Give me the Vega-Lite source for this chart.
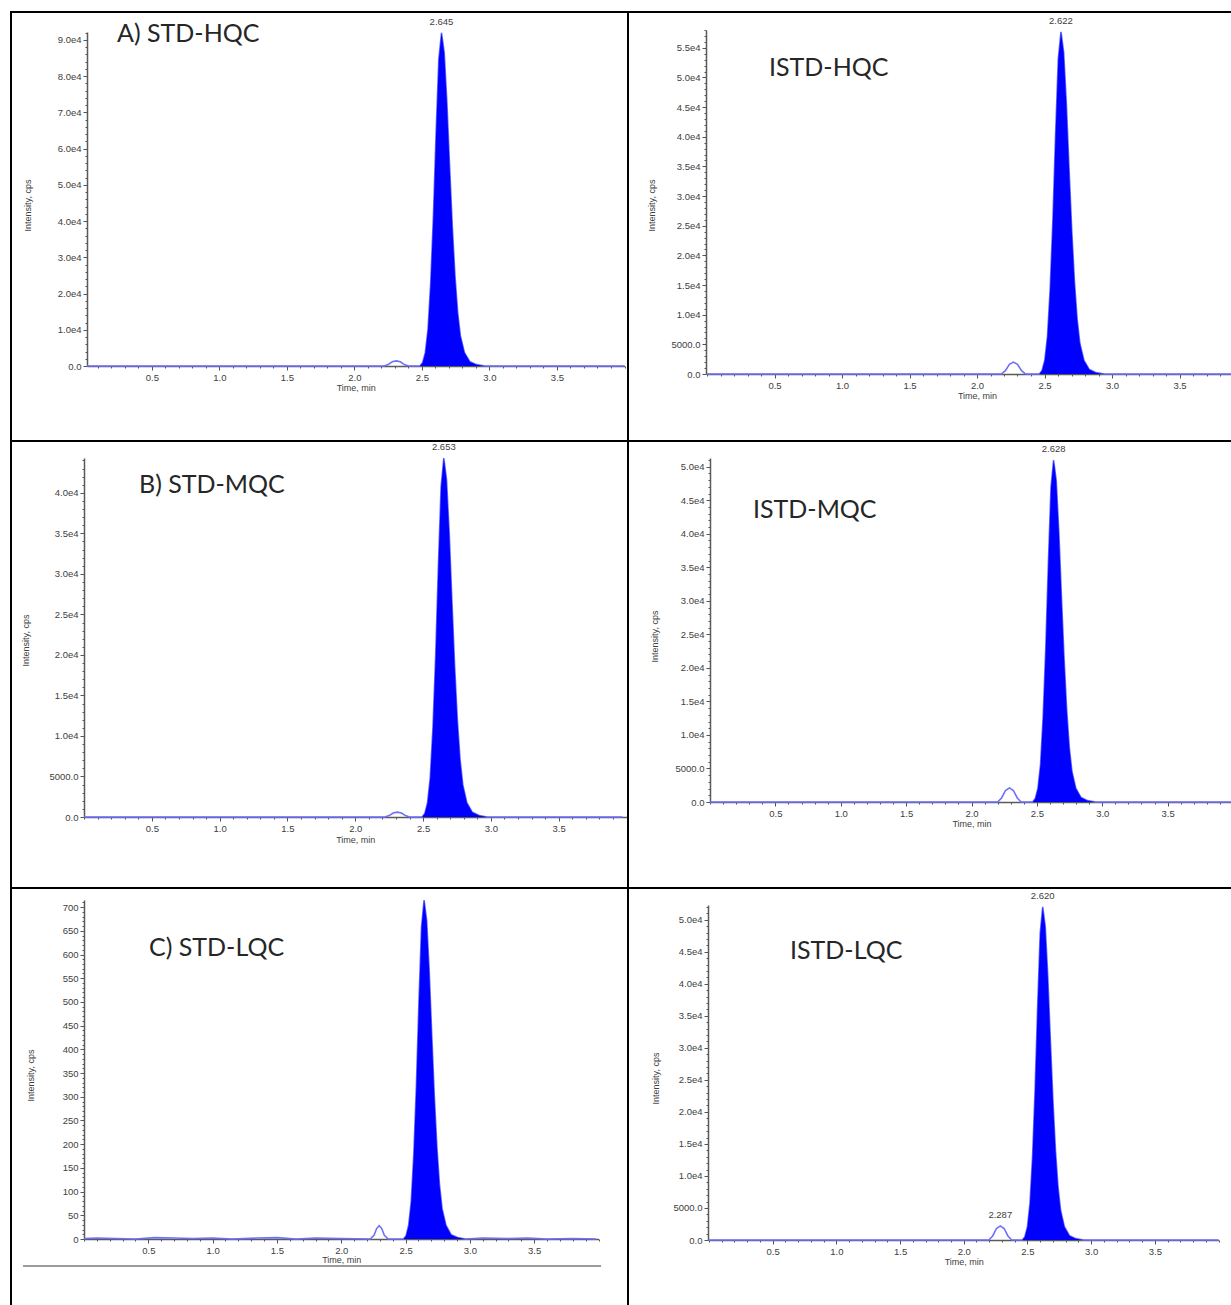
{
  "$schema": "https://vega.github.io/schema/vega-lite/v6.json",
  "background": "white",
  "padding": {"left": 10, "top": 11, "right": 0, "bottom": 0},
  "config": {
    "view": {"stroke": "#000000", "strokeWidth": 2},
    "axis": {
      "labelFont": "Liberation Sans", "labelFontSize": 9.5, "labelColor": "#404040", "labelPadding": 2,
      "titleFont": "Liberation Sans", "titleFontSize": 9, "titleFontWeight": "normal", "titleColor": "#404040",
      "domainColor": "#5a5a5a", "domainWidth": 1.5, "tickColor": "#555555", "tickSize": 4, "grid": false
    },
    "title": {"font": "Lato", "fontSize": 25, "fontWeight": "normal", "color": "#262626", "anchor": "start", "frame": "group", "baseline": "alphabetic"},
    "text": {"font": "Liberation Sans", "fontSize": 9.5, "color": "#404040"}
  },
  "datasets": {
    "A": [{"t":0.02,"i":0},{"t":0.5,"i":0},{"t":1,"i":0},{"t":1.5,"i":0},{"t":2,"i":0},{"t":2.22,"i":0},{"t":2.25,"i":400},{"t":2.28,"i":1150},{"t":2.31,"i":1400},{"t":2.34,"i":1150},{"t":2.37,"i":400},{"t":2.4,"i":0},{"t":2.485,"i":0},{"t":2.505,"i":920},{"t":2.525,"i":3680},{"t":2.545,"i":10120},{"t":2.565,"i":23000},{"t":2.585,"i":41400},{"t":2.605,"i":64400},{"t":2.625,"i":84640},{"t":2.645,"i":92000},{"t":2.665,"i":86500},{"t":2.685,"i":72700},{"t":2.705,"i":55200},{"t":2.725,"i":38600},{"t":2.745,"i":24800},{"t":2.765,"i":14700},{"t":2.785,"i":8300},{"t":2.815,"i":3700},{"t":2.855,"i":1200},{"t":2.905,"i":370},{"t":2.965,"i":0},{"t":3.5,"i":0},{"t":4,"i":0}],
    "B": [{"t":0,"i":0},{"t":0.5,"i":0},{"t":1,"i":0},{"t":1.5,"i":0},{"t":2,"i":0},{"t":2.22,"i":0},{"t":2.25,"i":170},{"t":2.28,"i":490},{"t":2.31,"i":600},{"t":2.34,"i":490},{"t":2.37,"i":170},{"t":2.4,"i":0},{"t":2.493,"i":0},{"t":2.513,"i":443},{"t":2.533,"i":1772},{"t":2.553,"i":4873},{"t":2.573,"i":11075},{"t":2.593,"i":19935},{"t":2.613,"i":31010},{"t":2.633,"i":40756},{"t":2.653,"i":44300},{"t":2.673,"i":41640},{"t":2.693,"i":35000},{"t":2.713,"i":26580},{"t":2.733,"i":18600},{"t":2.753,"i":11960},{"t":2.773,"i":7090},{"t":2.793,"i":3990},{"t":2.823,"i":1770},{"t":2.863,"i":580},{"t":2.913,"i":180},{"t":2.973,"i":0},{"t":3.5,"i":0},{"t":3.97,"i":0}],
    "C": [{"t":0,"i":1},{"t":0.1,"i":2},{"t":0.25,"i":1},{"t":0.4,"i":0},{"t":0.55,"i":3},{"t":0.7,"i":2},{"t":0.85,"i":1},{"t":1,"i":2},{"t":1.15,"i":0},{"t":1.35,"i":2},{"t":1.5,"i":3},{"t":1.65,"i":0},{"t":1.8,"i":2},{"t":2,"i":1},{"t":2.225,"i":0},{"t":2.255,"i":8},{"t":2.275,"i":22},{"t":2.295,"i":28},{"t":2.315,"i":22},{"t":2.335,"i":8},{"t":2.365,"i":0},{"t":2.484,"i":0},{"t":2.504,"i":7},{"t":2.524,"i":29},{"t":2.544,"i":79},{"t":2.564,"i":179},{"t":2.584,"i":322},{"t":2.604,"i":501},{"t":2.624,"i":658},{"t":2.644,"i":715},{"t":2.664,"i":672},{"t":2.684,"i":565},{"t":2.704,"i":429},{"t":2.724,"i":300},{"t":2.744,"i":193},{"t":2.764,"i":114},{"t":2.784,"i":64},{"t":2.814,"i":29},{"t":2.854,"i":9},{"t":2.904,"i":3},{"t":2.964,"i":0},{"t":3.1,"i":2},{"t":3.3,"i":1},{"t":3.45,"i":2},{"t":3.6,"i":0},{"t":3.8,"i":1},{"t":3.98,"i":0}],
    "D": [{"t":0,"i":0},{"t":0.5,"i":0},{"t":1,"i":0},{"t":1.5,"i":0},{"t":2,"i":0},{"t":2.18,"i":0},{"t":2.21,"i":570},{"t":2.24,"i":1640},{"t":2.27,"i":2000},{"t":2.3,"i":1640},{"t":2.33,"i":570},{"t":2.36,"i":0},{"t":2.462,"i":0},{"t":2.482,"i":577},{"t":2.502,"i":2308},{"t":2.522,"i":6347},{"t":2.542,"i":14425},{"t":2.562,"i":25965},{"t":2.582,"i":40390},{"t":2.602,"i":53084},{"t":2.622,"i":57700},{"t":2.642,"i":54240},{"t":2.662,"i":45580},{"t":2.682,"i":34620},{"t":2.702,"i":24230},{"t":2.722,"i":15580},{"t":2.742,"i":9230},{"t":2.762,"i":5190},{"t":2.792,"i":2310},{"t":2.832,"i":750},{"t":2.882,"i":230},{"t":2.942,"i":0},{"t":3.5,"i":0},{"t":4,"i":0}],
    "E": [{"t":0,"i":0},{"t":0.5,"i":0},{"t":1,"i":0},{"t":1.5,"i":0},{"t":2,"i":0},{"t":2.2,"i":0},{"t":2.23,"i":600},{"t":2.26,"i":1720},{"t":2.29,"i":2100},{"t":2.32,"i":1720},{"t":2.35,"i":600},{"t":2.38,"i":0},{"t":2.468,"i":0},{"t":2.488,"i":510},{"t":2.508,"i":2040},{"t":2.528,"i":5610},{"t":2.548,"i":12750},{"t":2.568,"i":22950},{"t":2.588,"i":35700},{"t":2.608,"i":46920},{"t":2.628,"i":51000},{"t":2.648,"i":47940},{"t":2.668,"i":40290},{"t":2.688,"i":30600},{"t":2.708,"i":21420},{"t":2.728,"i":13770},{"t":2.748,"i":8160},{"t":2.768,"i":4590},{"t":2.798,"i":2040},{"t":2.838,"i":660},{"t":2.888,"i":200},{"t":2.948,"i":0},{"t":3.5,"i":0},{"t":4,"i":0}],
    "F": [{"t":0,"i":0},{"t":0.5,"i":0},{"t":1,"i":0},{"t":1.5,"i":0},{"t":2,"i":0},{"t":2.197,"i":0},{"t":2.227,"i":630},{"t":2.257,"i":1800},{"t":2.287,"i":2200},{"t":2.317,"i":1800},{"t":2.347,"i":630},{"t":2.377,"i":0},{"t":2.46,"i":0},{"t":2.48,"i":520},{"t":2.5,"i":2080},{"t":2.52,"i":5720},{"t":2.54,"i":13000},{"t":2.56,"i":23400},{"t":2.58,"i":36400},{"t":2.6,"i":47840},{"t":2.62,"i":52000},{"t":2.64,"i":48880},{"t":2.66,"i":41080},{"t":2.68,"i":31200},{"t":2.7,"i":21840},{"t":2.72,"i":14040},{"t":2.74,"i":8320},{"t":2.76,"i":4680},{"t":2.79,"i":2080},{"t":2.83,"i":680},{"t":2.88,"i":210},{"t":2.94,"i":0},{"t":3.5,"i":0},{"t":4,"i":0}],
    "peaks": [
      {"p":"A","t":2.645,"i":92000,"label":"2.645"},
      {"p":"B","t":2.653,"i":44300,"label":"2.653"},
      {"p":"D","t":2.622,"i":57700,"label":"2.622"},
      {"p":"E","t":2.628,"i":51000,"label":"2.628"},
      {"p":"F","t":2.62,"i":52000,"label":"2.620"},
      {"p":"F","t":2.287,"i":2200,"label":"2.287"}
    ]
  },
  "spacing": 0,
  "bounds": "flush",
  "align": "each",
  "columns": 2,
  "concat": [
    {
      "width": 617, "height": 429,
      "title": {"text": "A) STD-HQC", "offset": -35, "dx": 106},
      "resolve": {"axis": {"x": "independent", "y": "independent"}},
      "layer": [
        {"data": {"name": "A"}, "mark": {"type": "line", "color": "#6e6eff", "strokeWidth": 1.6},
         "encoding": {
           "x": {"field": "t", "type": "quantitative", "scale": {"domain": [0.02, 4], "range": [76, 613.5], "nice": false, "zero": false},
                 "axis": {"orient": "bottom", "offset": -75, "values": [0.5,1,1.5,2,2.5,3,3.5], "format": ".1f", "title": "Time, min", "titlePadding": 2}},
           "y": {"field": "i", "type": "quantitative", "scale": {"domain": [0, 92200], "range": [354, 20], "nice": false, "zero": false},
                 "axis": {"orient": "left", "offset": -76, "values": [0,10000,20000,30000,40000,50000,60000,70000,80000,90000],
                          "labelExpr": "datum.value >= 10000 ? format(datum.value/10000, '.1f') + 'e4' : format(datum.value, '.1f')",
                          "title": "Intensity, cps", "titleX": -55, "titleY": 193}}}},
        {"data": {"name": "A"}, "transform": [{"filter": {"field": "t", "range": [2.45, 3.0]}}],
         "mark": {"type": "area", "color": "#0000ff"},
         "encoding": {
           "x": {"field": "t", "type": "quantitative", "axis": {"orient": "bottom", "offset": -75, "tickCount": 40, "labels": false, "domain": false, "title": null, "tickSize": 2}},
           "y": {"field": "i", "type": "quantitative", "axis": {"orient": "left", "offset": -76, "tickCount": 46, "labels": false, "domain": false, "title": null, "tickSize": 2}}}},
        {"data": {"name": "peaks"}, "transform": [{"filter": "datum.p == 'A'"}],
         "mark": {"type": "text", "baseline": "bottom", "dy": -6},
         "encoding": {"x": {"field": "t", "type": "quantitative", "axis": null}, "y": {"field": "i", "type": "quantitative", "axis": null}, "text": {"field": "label"}}}
      ]
    },
    {
      "width": 607, "height": 429,
      "title": {"text": "ISTD-HQC", "offset": -69, "dx": 141},
      "resolve": {"axis": {"x": "independent", "y": "independent"}},
      "layer": [
        {"data": {"name": "D"}, "mark": {"type": "line", "color": "#6e6eff", "strokeWidth": 1.6},
         "encoding": {
           "x": {"field": "t", "type": "quantitative", "scale": {"domain": [0, 4], "range": [79, 619], "nice": false, "zero": false},
                 "axis": {"orient": "bottom", "offset": -67, "values": [0.5,1,1.5,2,2.5,3,3.5], "format": ".1f", "title": "Time, min", "titlePadding": 2}},
           "y": {"field": "i", "type": "quantitative", "scale": {"domain": [0, 58000], "range": [362, 18], "nice": false, "zero": false},
                 "axis": {"orient": "left", "offset": -78, "values": [0,5000,10000,15000,20000,25000,30000,35000,40000,45000,50000,55000],
                          "labelExpr": "datum.value >= 10000 ? format(datum.value/10000, '.1f') + 'e4' : format(datum.value, '.1f')",
                          "title": "Intensity, cps", "titleX": -50, "titleY": 193}}}},
        {"data": {"name": "D"}, "transform": [{"filter": {"field": "t", "range": [2.45, 3.0]}}],
         "mark": {"type": "area", "color": "#0000ff"},
         "encoding": {
           "x": {"field": "t", "type": "quantitative", "axis": {"orient": "bottom", "offset": -67, "tickCount": 40, "labels": false, "domain": false, "title": null, "tickSize": 2}},
           "y": {"field": "i", "type": "quantitative", "axis": {"orient": "left", "offset": -78, "tickCount": 58, "labels": false, "domain": false, "title": null, "tickSize": 2}}}},
        {"data": {"name": "peaks"}, "transform": [{"filter": "datum.p == 'D'"}],
         "mark": {"type": "text", "baseline": "bottom", "dy": -6},
         "encoding": {"x": {"field": "t", "type": "quantitative", "axis": null}, "y": {"field": "i", "type": "quantitative", "axis": null}, "text": {"field": "label"}}}
      ]
    },
    {
      "width": 617, "height": 447,
      "title": {"text": "B) STD-MQC", "offset": -57, "dx": 128},
      "resolve": {"axis": {"x": "independent", "y": "independent"}},
      "layer": [
        {"data": {"name": "B"}, "mark": {"type": "line", "color": "#6e6eff", "strokeWidth": 1.6},
         "encoding": {
           "x": {"field": "t", "type": "quantitative", "scale": {"domain": [0, 4], "range": [73, 615.5], "nice": false, "zero": false},
                 "axis": {"orient": "bottom", "offset": -71, "values": [0.5,1,1.5,2,2.5,3,3.5], "format": ".1f", "title": "Time, min", "titlePadding": 3}},
           "y": {"field": "i", "type": "quantitative", "scale": {"domain": [0, 44300], "range": [376, 17], "nice": false, "zero": false},
                 "axis": {"orient": "left", "offset": -73, "values": [0,5000,10000,15000,20000,25000,30000,35000,40000],
                          "labelExpr": "datum.value >= 10000 ? format(datum.value/10000, '.1f') + 'e4' : format(datum.value, '.1f')",
                          "title": "Intensity, cps", "titleX": -54, "titleY": 199}}}},
        {"data": {"name": "B"}, "transform": [{"filter": {"field": "t", "range": [2.45, 3.0]}}],
         "mark": {"type": "area", "color": "#0000ff"},
         "encoding": {
           "x": {"field": "t", "type": "quantitative", "axis": {"orient": "bottom", "offset": -71, "tickCount": 40, "labels": false, "domain": false, "title": null, "tickSize": 2}},
           "y": {"field": "i", "type": "quantitative", "axis": {"orient": "left", "offset": -73, "tickCount": 44, "labels": false, "domain": false, "title": null, "tickSize": 2}}}},
        {"data": {"name": "peaks"}, "transform": [{"filter": "datum.p == 'B'"}],
         "mark": {"type": "text", "baseline": "bottom", "dy": -6},
         "encoding": {"x": {"field": "t", "type": "quantitative", "axis": null}, "y": {"field": "i", "type": "quantitative", "axis": null}, "text": {"field": "label"}}}
      ]
    },
    {
      "width": 607, "height": 447,
      "title": {"text": "ISTD-MQC", "offset": -82, "dx": 125},
      "resolve": {"axis": {"x": "independent", "y": "independent"}},
      "layer": [
        {"data": {"name": "E"}, "mark": {"type": "line", "color": "#6e6eff", "strokeWidth": 1.6},
         "encoding": {
           "x": {"field": "t", "type": "quantitative", "scale": {"domain": [0, 4], "range": [82, 605], "nice": false, "zero": false},
                 "axis": {"orient": "bottom", "offset": -86, "values": [0.5,1,1.5,2,2.5,3,3.5], "format": ".1f", "title": "Time, min", "titlePadding": 2}},
           "y": {"field": "i", "type": "quantitative", "scale": {"domain": [0, 51300], "range": [361, 17], "nice": false, "zero": false},
                 "axis": {"orient": "left", "offset": -82, "values": [0,5000,10000,15000,20000,25000,30000,35000,40000,45000,50000],
                          "labelExpr": "datum.value >= 10000 ? format(datum.value/10000, '.1f') + 'e4' : format(datum.value, '.1f')",
                          "title": "Intensity, cps", "titleX": -51, "titleY": 195}}}},
        {"data": {"name": "E"}, "transform": [{"filter": {"field": "t", "range": [2.45, 3.0]}}],
         "mark": {"type": "area", "color": "#0000ff"},
         "encoding": {
           "x": {"field": "t", "type": "quantitative", "axis": {"orient": "bottom", "offset": -86, "tickCount": 40, "labels": false, "domain": false, "title": null, "tickSize": 2}},
           "y": {"field": "i", "type": "quantitative", "axis": {"orient": "left", "offset": -82, "tickCount": 51, "labels": false, "domain": false, "title": null, "tickSize": 2}}}},
        {"data": {"name": "peaks"}, "transform": [{"filter": "datum.p == 'E'"}],
         "mark": {"type": "text", "baseline": "bottom", "dy": -6},
         "encoding": {"x": {"field": "t", "type": "quantitative", "axis": null}, "y": {"field": "i", "type": "quantitative", "axis": null}, "text": {"field": "label"}}}
      ]
    },
    {
      "width": 617, "height": 425,
      "title": {"text": "C) STD-LQC", "offset": -73, "dx": 138},
      "resolve": {"axis": {"x": "independent", "y": "independent"}},
      "layer": [
        {"data": {"name": "C"}, "mark": {"type": "line", "color": "#6e6eff", "strokeWidth": 1.6},
         "encoding": {
           "x": {"field": "t", "type": "quantitative", "scale": {"domain": [0, 4], "range": [73, 587.5], "nice": false, "zero": false},
                 "axis": {"orient": "bottom", "offset": -74, "values": [0.5,1,1.5,2,2.5,3,3.5], "format": ".1f", "title": "Time, min", "titlePadding": 1}},
           "y": {"field": "i", "type": "quantitative", "scale": {"domain": [0, 715], "range": [351, 12], "nice": false, "zero": false},
                 "axis": {"orient": "left", "offset": -73, "values": [0,50,100,150,200,250,300,350,400,450,500,550,600,650,700],
                          "title": "Intensity, cps", "titleX": -49, "titleY": 187}}}},
        {"data": {"name": "C"}, "transform": [{"filter": {"field": "t", "range": [2.45, 3.0]}}],
         "mark": {"type": "area", "color": "#0000ff"},
         "encoding": {
           "x": {"field": "t", "type": "quantitative", "axis": {"orient": "bottom", "offset": -74, "tickCount": 40, "labels": false, "domain": false, "title": null, "tickSize": 2}},
           "y": {"field": "i", "type": "quantitative", "axis": {"orient": "left", "offset": -73, "tickCount": 71, "labels": false, "domain": false, "title": null, "tickSize": 2}}}},
        {"data": {"values": [{}]},
         "mark": {"type": "rule", "color": "#7a7a7a", "strokeWidth": 1.5},
         "encoding": {"x": {"datum": -0.474, "type": "quantitative", "axis": null}, "x2": {"datum": 4.02}, "y": {"datum": -57, "type": "quantitative", "axis": null}}}
      ]
    },
    {
      "width": 607, "height": 425,
      "title": {"text": "ISTD-LQC", "offset": -76, "dx": 162},
      "resolve": {"axis": {"x": "independent", "y": "independent"}},
      "layer": [
        {"data": {"name": "F"}, "mark": {"type": "line", "color": "#6e6eff", "strokeWidth": 1.6},
         "encoding": {
           "x": {"field": "t", "type": "quantitative", "scale": {"domain": [0, 4], "range": [81, 590.5], "nice": false, "zero": false},
                 "axis": {"orient": "bottom", "offset": -73, "values": [0.5,1,1.5,2,2.5,3,3.5], "format": ".1f", "title": "Time, min", "titlePadding": 2}},
           "y": {"field": "i", "type": "quantitative", "scale": {"domain": [0, 52300], "range": [352, 17], "nice": false, "zero": false},
                 "axis": {"orient": "left", "offset": -80, "values": [0,5000,10000,15000,20000,25000,30000,35000,40000,45000,50000],
                          "labelExpr": "datum.value >= 10000 ? format(datum.value/10000, '.1f') + 'e4' : format(datum.value, '.1f')",
                          "title": "Intensity, cps", "titleX": -48, "titleY": 190}}}},
        {"data": {"name": "F"}, "transform": [{"filter": {"field": "t", "range": [2.45, 3.0]}}],
         "mark": {"type": "area", "color": "#0000ff"},
         "encoding": {
           "x": {"field": "t", "type": "quantitative", "axis": {"orient": "bottom", "offset": -73, "tickCount": 40, "labels": false, "domain": false, "title": null, "tickSize": 2}},
           "y": {"field": "i", "type": "quantitative", "axis": {"orient": "left", "offset": -80, "tickCount": 52, "labels": false, "domain": false, "title": null, "tickSize": 2}}}},
        {"data": {"name": "peaks"}, "transform": [{"filter": "datum.p == 'F'"}],
         "mark": {"type": "text", "baseline": "bottom", "dy": -6},
         "encoding": {"x": {"field": "t", "type": "quantitative", "axis": null}, "y": {"field": "i", "type": "quantitative", "axis": null}, "text": {"field": "label"}}}
      ]
    }
  ]
}
